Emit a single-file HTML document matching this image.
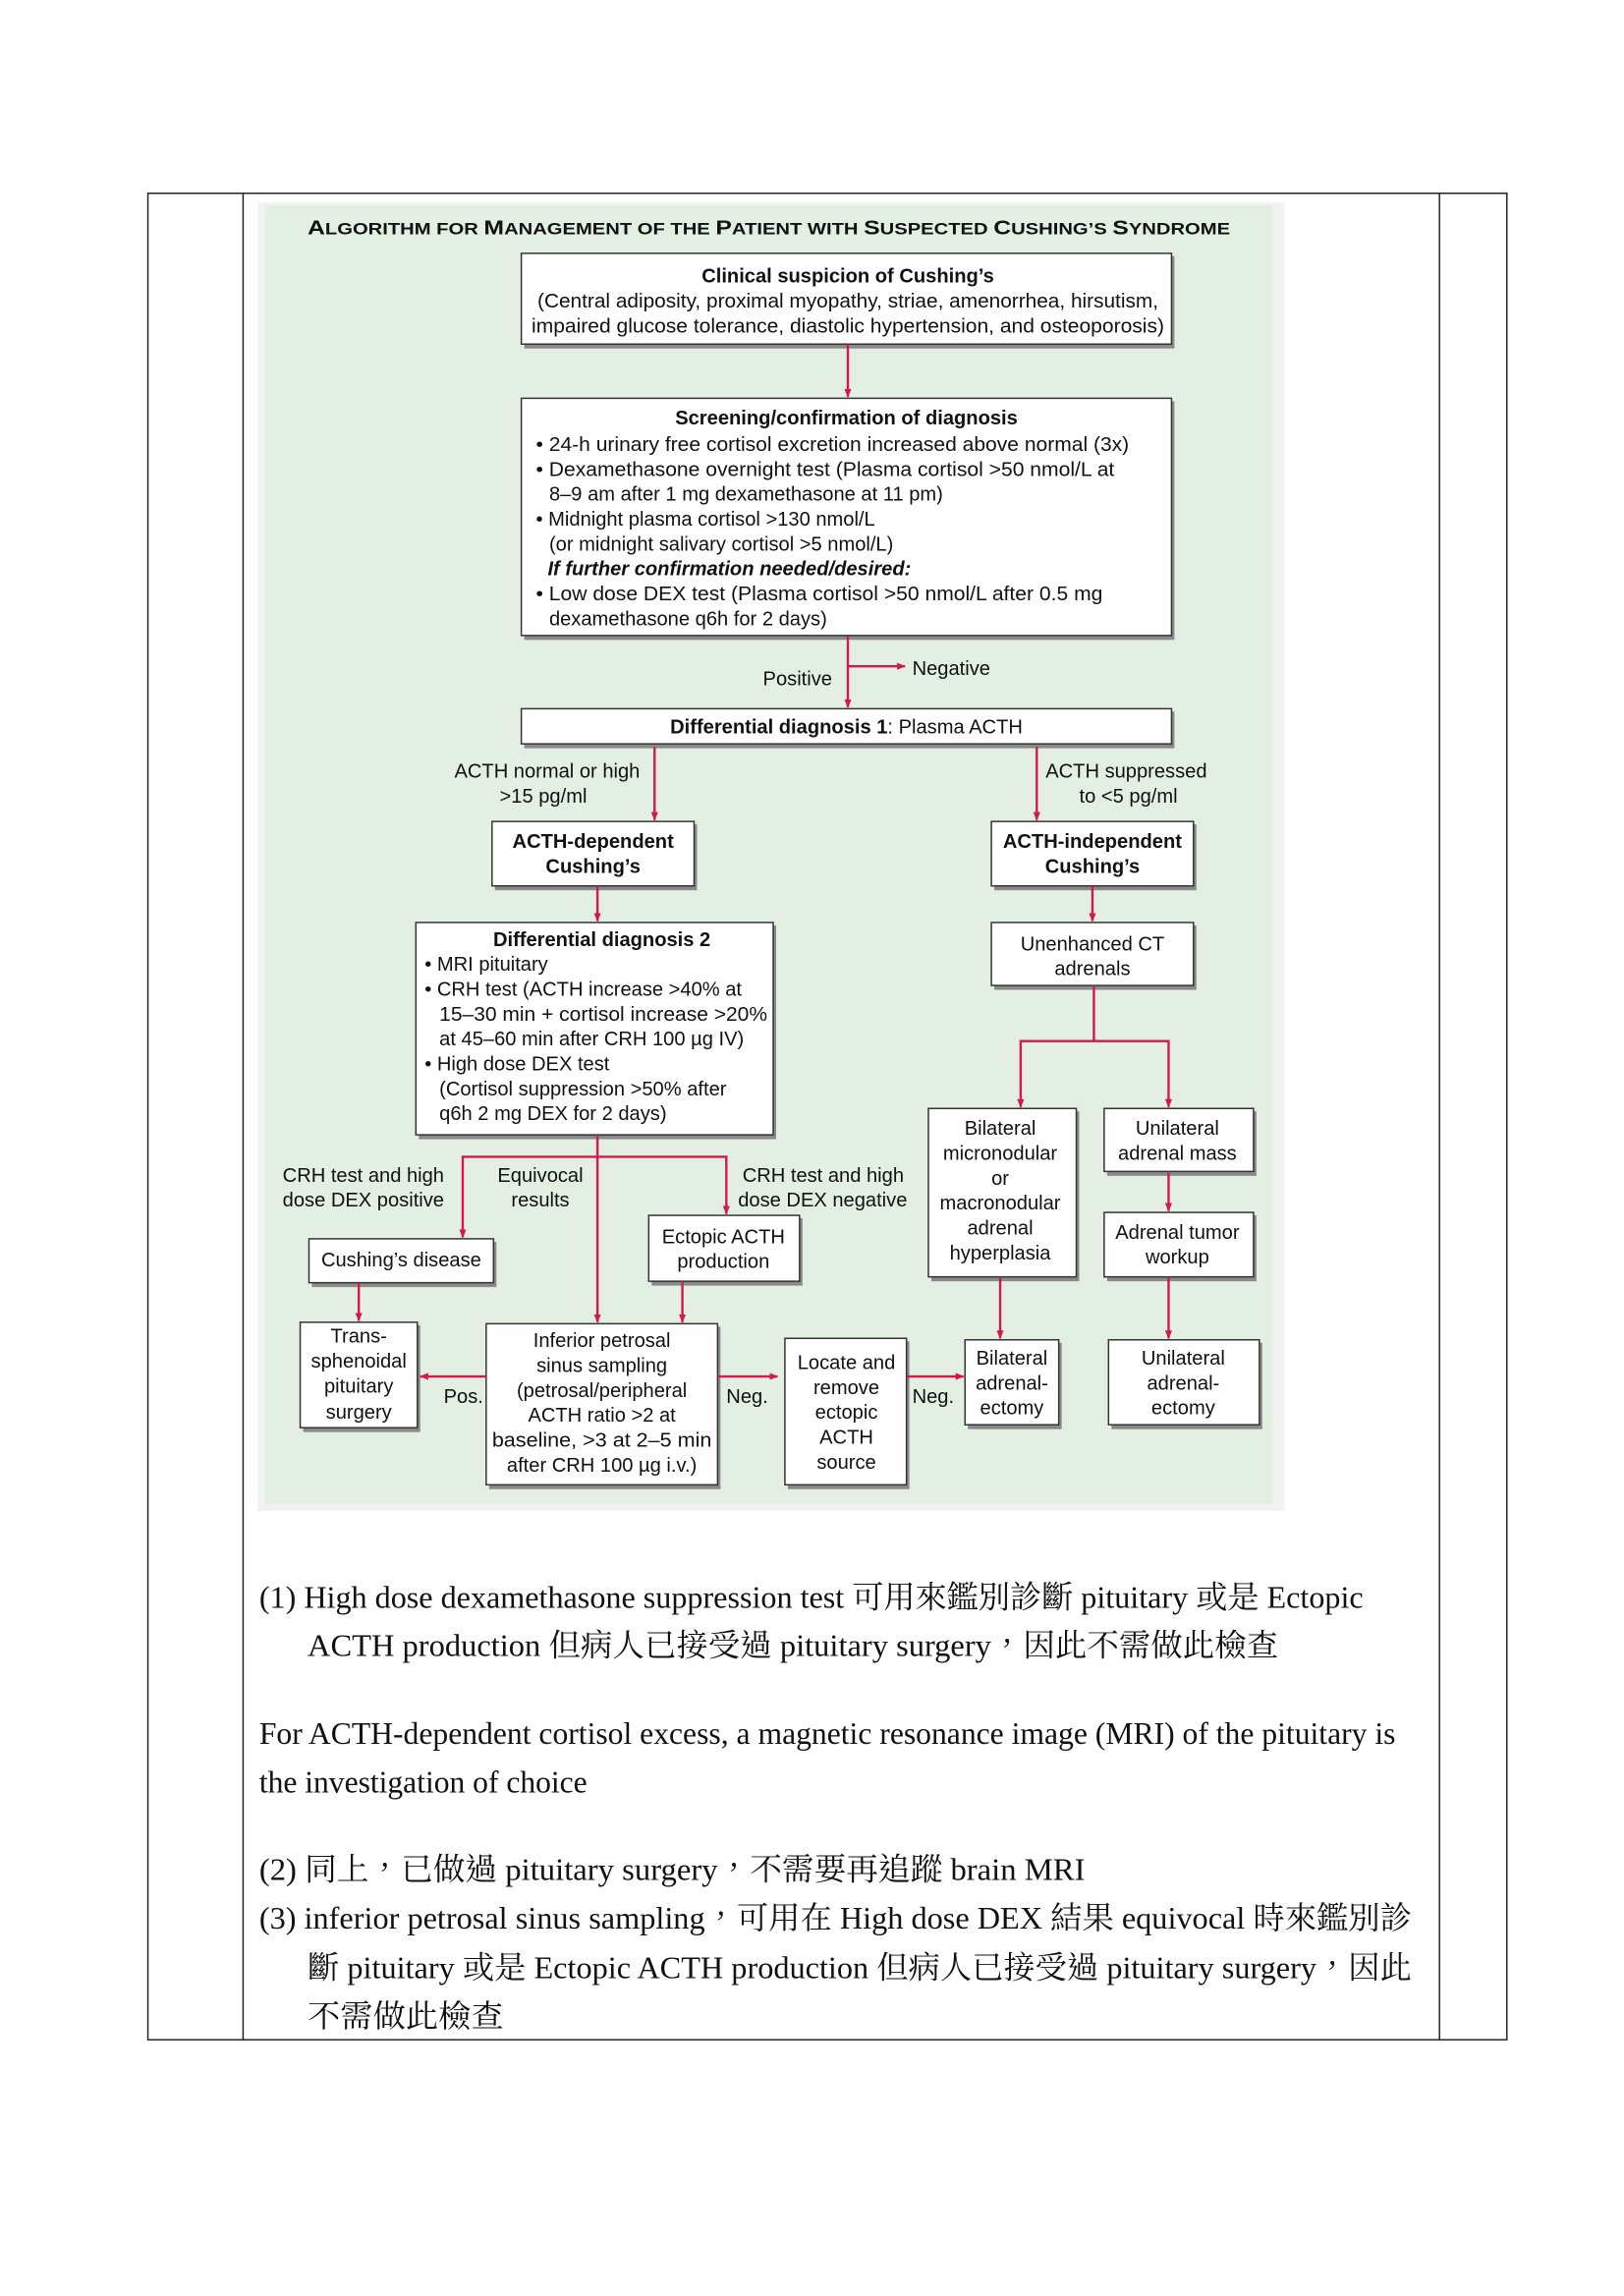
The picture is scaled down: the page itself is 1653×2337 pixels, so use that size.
<!DOCTYPE html>
<html><head><meta charset="utf-8"><style>
html,body{margin:0;padding:0;background:#fff;}
svg{display:block;}
.s{font-family:"Liberation Sans",Arial,sans-serif;font-size:13.5px;fill:#111;}
.b{font-weight:bold;}
.c{text-anchor:middle;}
.r{text-anchor:end;}
.body{font-family:"Liberation Serif","Noto Serif CJK TC","Noto Serif CJK SC",serif;font-size:21.5px;fill:#111;}
.box{fill:#fff;stroke:#333;stroke-width:1;}
.sh{fill:#8a8a8a;}
.ln{stroke:#d4184a;stroke-width:1.6;fill:none;}
</style></head><body>
<svg width="1653" height="2337" viewBox="0 0 1109 1568" preserveAspectRatio="none" xmlns="http://www.w3.org/2000/svg">
<defs>
<marker id="a" viewBox="0 0 10 10" refX="9" refY="5" markerWidth="6" markerHeight="6" orient="auto-start-reverse" markerUnits="userSpaceOnUse">
<path d="M0,1 L10,5 L0,9 z" fill="#d4184a"/></marker>
</defs>
<g stroke="#222" stroke-width="1" fill="none">
<rect x="101" y="132" width="928" height="1261"/>
<line x1="166" y1="132" x2="166" y2="1393"/>
<line x1="983" y1="132" x2="983" y2="1393"/>
</g>
<rect x="176" y="138" width="701" height="894" fill="#f1f3f1"/>
<rect x="181" y="140" width="688" height="887" fill="#e2efe2"/>
<text class="s b" x="210" y="160" font-size="14" textLength="630" lengthAdjust="spacingAndGlyphs">A<tspan font-size="11">LGORITHM FOR </tspan>M<tspan font-size="11">ANAGEMENT OF THE </tspan>P<tspan font-size="11">ATIENT WITH </tspan>S<tspan font-size="11">USPECTED </tspan>C<tspan font-size="11">USHING’S </tspan>S<tspan font-size="11">YNDROME</tspan></text>

<g>
<rect class="sh" x="358" y="175" width="444" height="63"/><rect class="box" x="356" y="173" width="444" height="62"/>
<rect class="sh" x="358" y="274" width="444" height="163"/><rect class="box" x="356" y="272" width="444" height="162"/>
<rect class="sh" x="358" y="486" width="444" height="25"/><rect class="box" x="356" y="484" width="444" height="24"/>
<rect class="sh" x="338" y="563" width="138" height="45"/><rect class="box" x="336" y="561" width="138" height="44"/>
<rect class="sh" x="679" y="563" width="138" height="45"/><rect class="box" x="677" y="561" width="138" height="44"/>
<rect class="sh" x="286" y="632" width="244" height="146"/><rect class="box" x="284" y="630" width="244" height="145"/>
<rect class="sh" x="679" y="632" width="138" height="44"/><rect class="box" x="677" y="630" width="138" height="43"/>
<rect class="sh" x="636" y="759" width="101" height="116"/><rect class="box" x="634" y="757" width="101" height="115"/>
<rect class="sh" x="756" y="759" width="102" height="44"/><rect class="box" x="754" y="757" width="102" height="43"/>
<rect class="sh" x="756" y="830" width="102" height="45"/><rect class="box" x="754" y="828" width="102" height="44"/>
<rect class="sh" x="661" y="917" width="64" height="59"/><rect class="box" x="659" y="915" width="64" height="58"/>
<rect class="sh" x="759" y="917" width="103" height="59"/><rect class="box" x="757" y="915" width="103" height="58"/>
<rect class="sh" x="213" y="848" width="126" height="31"/><rect class="box" x="211" y="846" width="126" height="30"/>
<rect class="sh" x="445" y="832" width="103" height="46"/><rect class="box" x="443" y="830" width="103" height="45"/>
<rect class="sh" x="207" y="905" width="80" height="73"/><rect class="box" x="205" y="903" width="80" height="72"/>
<rect class="sh" x="334" y="906" width="158" height="111"/><rect class="box" x="332" y="904" width="158" height="110"/>
<rect class="sh" x="538" y="916" width="83" height="101"/><rect class="box" x="536" y="914" width="83" height="100"/>
</g>

<g class="ln">
<line x1="579" y1="235" x2="579" y2="271" marker-end="url(#a)"/>
<line x1="579" y1="434" x2="579" y2="483" marker-end="url(#a)"/>
<line x1="579" y1="455" x2="618" y2="455" marker-end="url(#a)"/>
<line x1="447" y1="510" x2="447" y2="560" marker-end="url(#a)"/>
<line x1="708" y1="510" x2="708" y2="560" marker-end="url(#a)"/>
<line x1="408" y1="605" x2="408" y2="629" marker-end="url(#a)"/>
<line x1="746" y1="605" x2="746" y2="629" marker-end="url(#a)"/>
<polyline points="747,673 747,711"/>
<polyline points="697,756 697,711 798,711 798,756" marker-start="url(#a)" marker-end="url(#a)"/>
<line x1="798" y1="800" x2="798" y2="827" marker-end="url(#a)"/>
<line x1="683" y1="872" x2="683" y2="914" marker-end="url(#a)"/>
<line x1="798" y1="872" x2="798" y2="914" marker-end="url(#a)"/>
<line x1="408" y1="775" x2="408" y2="903" marker-end="url(#a)"/>
<polyline points="316,845 316,790 496,790 496,829" marker-start="url(#a)" marker-end="url(#a)"/>
<line x1="245" y1="876" x2="245" y2="902" marker-end="url(#a)"/>
<line x1="466" y1="875" x2="466" y2="903" marker-end="url(#a)"/>
<line x1="332" y1="940" x2="287" y2="940" marker-end="url(#a)"/>
<line x1="490" y1="940" x2="531" y2="940" marker-end="url(#a)"/>
<line x1="619" y1="940" x2="658" y2="940" marker-end="url(#a)"/>
</g>

<text class="s b c" x="579" y="193">Clinical suspicion of Cushing’s</text>
<text class="s c" x="579" y="210" textLength="424" lengthAdjust="spacingAndGlyphs">(Central adiposity, proximal myopathy, striae, amenorrhea, hirsutism,</text>
<text class="s c" x="579" y="227" textLength="432" lengthAdjust="spacingAndGlyphs">impaired glucose tolerance, diastolic hypertension, and osteoporosis)</text>

<text class="s b c" x="578" y="290">Screening/confirmation of diagnosis</text>
<text class="s" x="366" y="308" textLength="405" lengthAdjust="spacingAndGlyphs">• 24-h urinary free cortisol excretion increased above normal (3x)</text>
<text class="s" x="366" y="325" textLength="395" lengthAdjust="spacingAndGlyphs">• Dexamethasone overnight test (Plasma cortisol &gt;50 nmol/L at</text>
<text class="s" x="375" y="342">8–9 am after 1 mg dexamethasone at 11 pm)</text>
<text class="s" x="366" y="359">• Midnight plasma cortisol &gt;130 nmol/L</text>
<text class="s" x="375" y="376">(or midnight salivary cortisol &gt;5 nmol/L)</text>
<text class="s b" x="374" y="393" font-style="italic">If further confirmation needed/desired:</text>
<text class="s" x="366" y="410" textLength="387" lengthAdjust="spacingAndGlyphs">• Low dose DEX test (Plasma cortisol &gt;50 nmol/L after 0.5 mg</text>
<text class="s" x="375" y="427">dexamethasone q6h for 2 days)</text>

<text class="s" x="521" y="468">Positive</text>
<text class="s" x="623" y="461">Negative</text>
<text class="s c" x="578" y="501"><tspan font-weight="bold">Differential diagnosis 1</tspan>: Plasma ACTH</text>

<text class="s r" x="437" y="531">ACTH normal or high</text>
<text class="s c" x="371" y="548">&gt;15 pg/ml</text>
<text class="s" x="714" y="531">ACTH suppressed</text>
<text class="s" x="737" y="548">to &lt;5 pg/ml</text>

<text class="s b c" x="405" y="579">ACTH-dependent</text>
<text class="s b c" x="405" y="596">Cushing’s</text>
<text class="s b c" x="746" y="579">ACTH-independent</text>
<text class="s b c" x="746" y="596">Cushing’s</text>

<text class="s b c" x="411" y="646">Differential diagnosis 2</text>
<text class="s" x="290" y="663">• MRI pituitary</text>
<text class="s" x="290" y="680">• CRH test (ACTH increase &gt;40% at</text>
<text class="s" x="300" y="697" textLength="224" lengthAdjust="spacingAndGlyphs">15–30 min + cortisol increase &gt;20%</text>
<text class="s" x="300" y="714">at 45–60 min after CRH 100 µg IV)</text>
<text class="s" x="290" y="731">• High dose DEX test</text>
<text class="s" x="300" y="748">(Cortisol suppression &gt;50% after</text>
<text class="s" x="300" y="765">q6h 2 mg DEX for 2 days)</text>

<text class="s c" x="746" y="649">Unenhanced CT</text>
<text class="s c" x="746" y="666">adrenals</text>

<text class="s c" x="683" y="775">Bilateral</text>
<text class="s c" x="683" y="792">micronodular</text>
<text class="s c" x="683" y="809">or</text>
<text class="s c" x="683" y="826">macronodular</text>
<text class="s c" x="683" y="843">adrenal</text>
<text class="s c" x="683" y="860">hyperplasia</text>

<text class="s c" x="804" y="775">Unilateral</text>
<text class="s c" x="804" y="792">adrenal mass</text>
<text class="s c" x="804" y="846">Adrenal tumor</text>
<text class="s c" x="804" y="863">workup</text>

<text class="s c" x="691" y="932">Bilateral</text>
<text class="s c" x="691" y="949">adrenal-</text>
<text class="s c" x="691" y="966">ectomy</text>
<text class="s c" x="808" y="932">Unilateral</text>
<text class="s c" x="808" y="949">adrenal-</text>
<text class="s c" x="808" y="966">ectomy</text>

<text class="s" x="193" y="807">CRH test and high</text>
<text class="s" x="193" y="824">dose DEX positive</text>
<text class="s c" x="369" y="807">Equivocal</text>
<text class="s c" x="369" y="824">results</text>
<text class="s" x="507" y="807">CRH test and high</text>
<text class="s" x="504" y="824">dose DEX negative</text>

<text class="s c" x="274" y="865">Cushing’s disease</text>
<text class="s c" x="494" y="849">Ectopic ACTH</text>
<text class="s c" x="494" y="866">production</text>

<text class="s c" x="245" y="917">Trans-</text>
<text class="s c" x="245" y="934">sphenoidal</text>
<text class="s c" x="245" y="951">pituitary</text>
<text class="s c" x="245" y="969">surgery</text>

<text class="s c" x="411" y="920">Inferior petrosal</text>
<text class="s c" x="411" y="937">sinus sampling</text>
<text class="s c" x="411" y="954">(petrosal/peripheral</text>
<text class="s c" x="411" y="971">ACTH ratio &gt;2 at</text>
<text class="s c" x="411" y="988" textLength="150" lengthAdjust="spacingAndGlyphs">baseline, &gt;3  at 2–5 min</text>
<text class="s c" x="411" y="1005">after CRH 100 µg i.v.)</text>

<text class="s c" x="578" y="935">Locate and</text>
<text class="s c" x="578" y="952">remove</text>
<text class="s c" x="578" y="969">ectopic</text>
<text class="s c" x="578" y="986">ACTH</text>
<text class="s c" x="578" y="1003">source</text>

<text class="s" x="303" y="958">Pos.</text>
<text class="s" x="496" y="958">Neg.</text>
<text class="s" x="623" y="958">Neg.</text>

<text class="body" x="177" y="1098" textLength="754" lengthAdjust="spacingAndGlyphs">(1) High dose dexamethasone suppression test 可用來鑑別診斷 pituitary 或是 Ectopic</text>
<text class="body" x="210" y="1131" textLength="663" lengthAdjust="spacingAndGlyphs">ACTH production 但病人已接受過 pituitary surgery，因此不需做此檢查</text>
<text class="body" x="177" y="1191" textLength="776" lengthAdjust="spacingAndGlyphs">For ACTH-dependent cortisol excess, a magnetic resonance image (MRI) of the pituitary is</text>
<text class="body" x="177" y="1224" textLength="224" lengthAdjust="spacingAndGlyphs">the investigation of choice</text>
<text class="body" x="177" y="1284" textLength="564" lengthAdjust="spacingAndGlyphs">(2) 同上，已做過 pituitary surgery，不需要再追蹤 brain MRI</text>
<text class="body" x="177" y="1317" textLength="787" lengthAdjust="spacingAndGlyphs">(3) inferior petrosal sinus sampling，可用在 High dose DEX 結果 equivocal 時來鑑別診</text>
<text class="body" x="210" y="1351" textLength="754" lengthAdjust="spacingAndGlyphs">斷 pituitary 或是 Ectopic ACTH production 但病人已接受過 pituitary surgery，因此</text>
<text class="body" x="210" y="1384" textLength="134" lengthAdjust="spacingAndGlyphs">不需做此檢查</text>
</svg>
</body></html>
